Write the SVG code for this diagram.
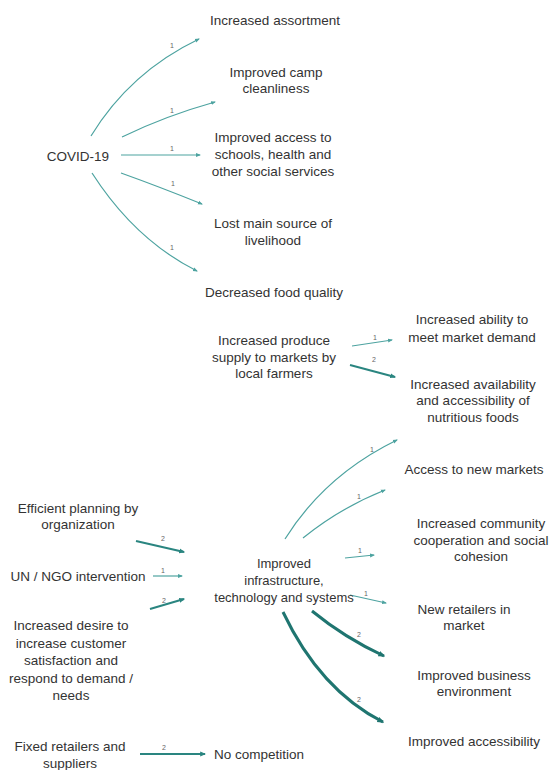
<svg xmlns="http://www.w3.org/2000/svg" width="549" height="770" viewBox="0 0 549 770">
<style>
text{font-family:"Liberation Sans",Arial,sans-serif;fill:#333;}
.n{font-size:13.5px;text-anchor:middle;}
.s{font-size:13px;}
.l{font-size:7px;fill:#666;text-anchor:middle;}
.e1{fill:none;stroke:#4da3a0;stroke-width:1.2;marker-end:url(#a1);}
.e2{fill:none;stroke:#2a8580;stroke-width:2;marker-end:url(#a2);}
.e3{fill:none;stroke:#1f7570;stroke-width:3;marker-end:url(#a3);}
</style>
<defs>
<marker id="a1" viewBox="0 0 10 10" refX="8" refY="5" markerWidth="5" markerHeight="5" markerUnits="userSpaceOnUse" orient="auto"><path d="M0,1 L10,5 L0,9 Z" fill="#4da3a0"/></marker>
<marker id="a2" viewBox="0 0 10 10" refX="8" refY="5" markerWidth="6" markerHeight="6" markerUnits="userSpaceOnUse" orient="auto"><path d="M0,1 L10,5 L0,9 Z" fill="#2a8580"/></marker>
<marker id="a3" viewBox="0 0 10 10" refX="8" refY="5" markerWidth="7" markerHeight="7" markerUnits="userSpaceOnUse" orient="auto"><path d="M0,1 L10,5 L0,9 Z" fill="#1f7570"/></marker>
</defs>
<rect width="549" height="770" fill="#fff"/>
<g id="connectors">
<path class="e1" d="M91,136 Q130,72 199,39"/>
<path class="e1" d="M122,137 Q165,116 215,102"/>
<path class="e1" d="M121,155 L200,155"/>
<path class="e1" d="M121,173 Q160,187 202,204"/>
<path class="e1" d="M92,173 Q135,240 197,271"/>
<path class="e1" d="M352,346 L392,340"/>
<path class="e2" d="M350,365 L395,377"/>
<path class="e1" d="M285,539 Q325,475 397,440"/>
<path class="e1" d="M303,538 Q340,508 385,490"/>
<path class="e1" d="M345,558 L374,555"/>
<path class="e1" d="M350,595 L386,603"/>
<path class="e3" d="M312,611 Q345,638 384,656"/>
<path class="e3" d="M283,612 Q320,690 383,722"/>
<path class="e2" d="M136,541 L184,552"/>
<path class="e1" d="M153,576 L182,576"/>
<path class="e2" d="M150,609 L184,599"/>
<path class="e2" d="M140,754 L205,754"/>
<text class="l" x="172" y="48">1</text>
<text class="l" x="172" y="113">1</text>
<text class="l" x="172" y="151">1</text>
<text class="l" x="173" y="186">1</text>
<text class="l" x="172" y="250">1</text>
<text class="l" x="375" y="340">1</text>
<text class="l" x="374" y="362">2</text>
<text class="l" x="372" y="452">1</text>
<text class="l" x="359" y="499">1</text>
<text class="l" x="360" y="553">1</text>
<text class="l" x="366" y="596">1</text>
<text class="l" x="359" y="637">2</text>
<text class="l" x="359" y="702">2</text>
<text class="l" x="163" y="541">2</text>
<text class="l" x="163" y="573">1</text>
<text class="l" x="164" y="603">2</text>
<text class="l" x="164" y="750">2</text>
</g>
<g id="covid"><text class="n" x="78" y="161">COVID-19</text></g>
<g id="assortment"><text class="n" x="275" y="25">Increased assortment</text></g>
<g id="camp"><text class="n" x="276" y="77">Improved camp</text><text class="n" x="276" y="93">cleanliness</text></g>
<g id="access-services"><text class="n" x="273" y="142">Improved access to</text><text class="n" x="273" y="159">schools, health and</text><text class="n" x="273" y="176">other social services</text></g>
<g id="lost"><text class="n" x="273" y="228">Lost main source of</text><text class="n" x="273" y="245">livelihood</text></g>
<g id="food-quality"><text class="n" x="274" y="297">Decreased food quality</text></g>
<g id="produce"><text class="n" x="274" y="345">Increased produce</text><text class="n" x="274" y="362">supply to markets by</text><text class="n" x="274" y="378">local farmers</text></g>
<g id="ability"><text class="n" x="472" y="324">Increased ability to</text><text class="n" x="472" y="342">meet market demand</text></g>
<g id="availability"><text class="n" x="473" y="389">Increased availability</text><text class="n" x="473" y="405">and accessibility of</text><text class="n" x="473" y="422">nutritious foods</text></g>
<g id="infrastructure"><text class="n s" x="284" y="568">Improved</text><text class="n s" x="284" y="585">infrastructure,</text><text class="n s" x="284" y="602">technology and systems</text></g>
<g id="planning"><text class="n" x="78" y="513">Efficient planning by</text><text class="n" x="78" y="529">organization</text></g>
<g id="ngo"><text class="n" x="78" y="581">UN / NGO intervention</text></g>
<g id="desire"><text class="n" x="71" y="630">Increased desire to</text><text class="n" x="71" y="648">increase customer</text><text class="n" x="71" y="665">satisfaction and</text><text class="n" x="71" y="683">respond to demand /</text><text class="n" x="71" y="700">needs</text></g>
<g id="fixed"><text class="n" x="70" y="751">Fixed retailers and</text><text class="n" x="70" y="768">suppliers</text></g>
<g id="no-competition"><text class="n" x="259" y="759">No competition</text></g>
<g id="new-markets"><text class="n" x="474" y="474">Access to new markets</text></g>
<g id="community"><text class="n" x="481" y="528">Increased community</text><text class="n" x="481" y="545">cooperation and social</text><text class="n" x="481" y="561">cohesion</text></g>
<g id="retailers"><text class="n" x="464" y="614">New retailers in</text><text class="n" x="464" y="630">market</text></g>
<g id="business"><text class="n" x="474" y="680">Improved business</text><text class="n" x="474" y="696">environment</text></g>
<g id="accessibility"><text class="n" x="474" y="746">Improved accessibility</text></g>
</svg>
